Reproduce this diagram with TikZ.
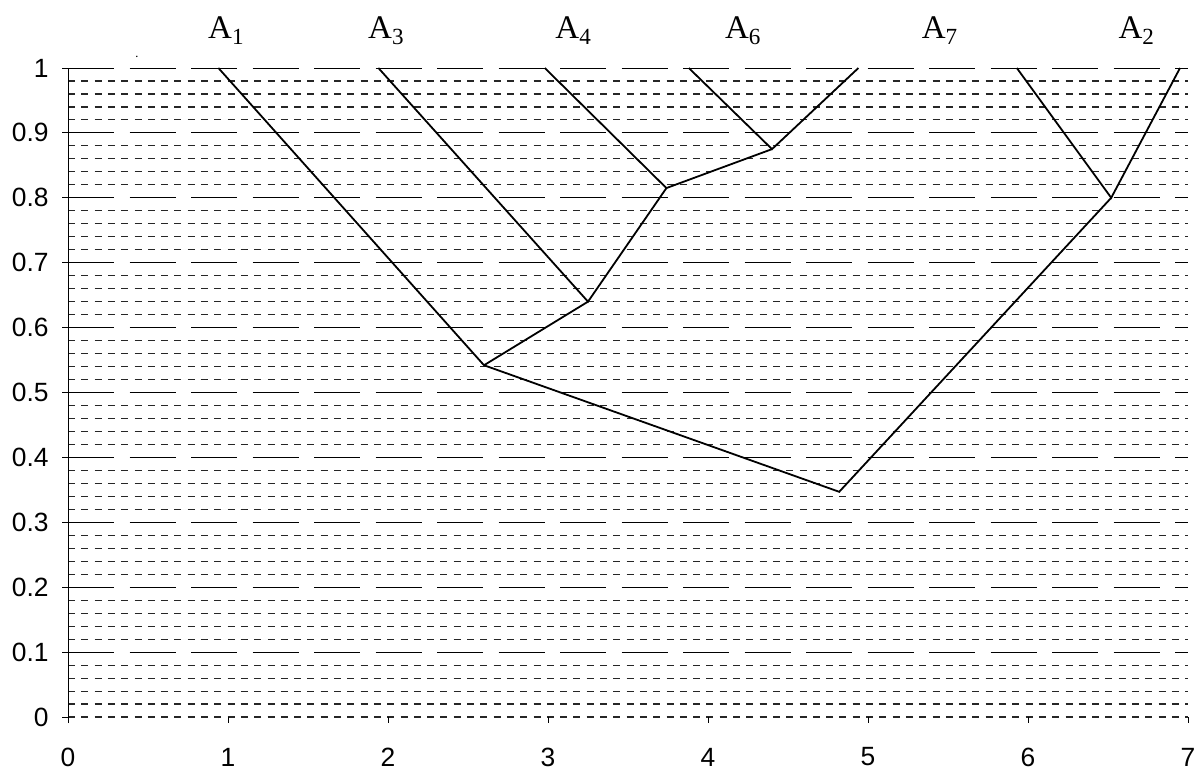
\documentclass[tikz,border=0pt]{standalone}
\usepackage{fontspec}
\setmainfont{Liberation Serif}
\newfontfamily\axisfont{Liberation Sans}
\begin{document}
\begin{tikzpicture}[x=80pt,y=324.5pt,
  minorgrid/.style={line width=0.55pt, dash pattern=on 3.5pt off 3.15pt, black!85},
  majorgrid/.style={line width=0.5pt, dash pattern=on 23pt off 7.75pt},
  branch/.style={line width=0.9pt},
  axisline/.style={line width=0.5pt},
  axislbl/.style={font=\axisfont\fontsize{13.2}{15}\selectfont, inner sep=0pt},
  leaflbl/.style={font=\fontsize{16.5}{19}\selectfont, anchor=base, inner sep=0pt}]
\useasboundingbox (-0.425,-0.0801) rectangle (7.05625,1.10478);
% grid
\draw[minorgrid] (0,0) -- (7,0);
\foreach \j in {0,...,9}{
  \foreach \m in {1,2,3,4}{
    \draw[minorgrid] (0,{\j/10+\m/50}) -- (7,{\j/10+\m/50});
  }
}
\foreach \j in {1,...,10}{
  \draw[majorgrid] (0,\j/10) -- (7,\j/10);
}
% y axis
\coordinate (ybot) at ([yshift=-3pt]0,0);
\coordinate (ytop) at (0,1);
\draw[axisline] (ybot) -- (ytop);
\foreach \j/\t in {0/0,1/0.1,2/0.2,3/0.3,4/0.4,5/0.5,6/0.6,7/0.7,8/0.8,9/0.9,10/1}{
  \coordinate (yt\j) at (0,\j/10);
  \draw[axisline] (yt\j) -- ([xshift=-3pt]yt\j);
  \node[axislbl, anchor=east] (yl\j) at ([xshift=-9.5pt]yt\j) {\t};
}
% x axis ticks
\foreach \i in {0,...,7}{
  \coordinate (xt\i) at (\i,0);
  \draw[axisline] (xt\i) -- ([yshift=-3pt]xt\i);
  \node[axislbl] (xl\i) at ([yshift=-20pt]xt\i) {\i};
}
% stray dot
\fill (0.43,1.018) circle (0.4pt);
% dendrogram
\coordinate (l1) at (0.94,1);
\coordinate (l3) at (1.94,1);
\coordinate (l4) at (2.98,1);
\coordinate (l6) at (3.88,1);
\coordinate (l7) at (4.94,1);
\coordinate (lx) at (5.93,1);
\coordinate (l2) at (6.95,1);
\coordinate (j67) at (4.40,0.875);
\coordinate (j4) at (3.74,0.815);
\coordinate (j3) at (3.25,0.64);
\coordinate (j1) at (2.60,0.542);
\coordinate (j2) at (6.52,0.80);
\coordinate (root) at (4.82,0.347);
\draw[branch] (l6) -- (j67) -- (l7);
\draw[branch] (l4) -- (j4) -- (j67);
\draw[branch] (l3) -- (j3) -- (j4);
\draw[branch] (l1) -- (j1) -- (j3);
\draw[branch] (j1) -- (root) -- (j2);
\draw[branch] (lx) -- (j2) -- (l2);
% labels
\node[leaflbl] (a1) at (0.99,1.0447) {A\textsubscript{1}};
\node[leaflbl] (a3) at (1.99,1.0447) {A\textsubscript{3}};
\node[leaflbl] (a4) at (3.16,1.0447) {A\textsubscript{4}};
\node[leaflbl] (a6) at (4.22,1.0447) {A\textsubscript{6}};
\node[leaflbl] (a7) at (5.45,1.0447) {A\textsubscript{7}};
\node[leaflbl] (a2) at (6.68,1.0447) {A\textsubscript{2}};
\end{tikzpicture}
\end{document}
